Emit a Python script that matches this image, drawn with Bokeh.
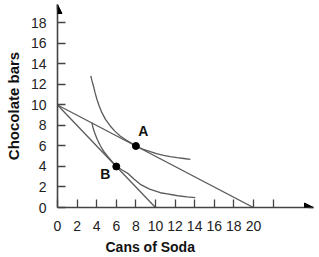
from bokeh.plotting import figure
from bokeh.models import FixedTicker, Arrow, NormalHead, Title
from bokeh.core.properties import value
from bokeh.embed import file_html
from bokeh.resources import INLINE

# ---- data ----
x_ticks = [0, 2, 4, 6, 8, 10, 12, 14, 16, 18, 20, 22]
y_ticks = [0, 2, 4, 6, 8, 10, 12, 14, 16, 18]

budget1_x = [0, 20]
budget1_y = [10, 0]
budget2_x = [0, 10]
budget2_y = [10, 0]

ic_high_x = [3.40, 3.52, 3.67, 3.82, 4.02, 4.25, 4.53, 4.9, 5.38, 5.85, 6.40, 7.0, 7.76, 8.0,
             8.7, 9.47, 10.1, 10.83, 11.5, 12.2, 12.9, 13.56]
ic_high_y = [12.83, 12.35, 11.85, 11.25, 10.56, 9.92, 9.25, 8.6, 7.95, 7.45, 6.98, 6.58, 6.17, 6.0,
             5.7, 5.44, 5.25, 5.09, 4.97, 4.86, 4.78, 4.70]

ic_low_x = [3.51, 3.65, 3.84, 4.05, 4.36, 4.72, 5.17, 5.58, 6.0, 6.6, 7.22, 7.8, 8.45, 9.4,
            10.49, 11.2, 11.85, 12.5, 13.22, 14.07]
ic_low_y = [8.27, 7.7, 7.17, 6.65, 6.05, 5.47, 4.93, 4.47, 4.05, 3.66, 3.3, 2.78, 2.26, 1.8,
            1.44, 1.32, 1.22, 1.12, 1.03, 0.96]

points_x = [8, 6]
points_y = [6, 4]
points_lbl = ["A", "B"]
lbl_x = [8.75, 4.87]
lbl_y = [7.46, 3.27]

X_MAX = 26.13
Y_MAX = 19.8

FONT = "Liberation Sans"
AXIS_COLOR = "#444444"
CURVE_COLOR = "#5a5a5a"

p = figure(width=319, height=257, output_backend="svg", toolbar_location=None,
           x_range=(0, X_MAX), y_range=(0, Y_MAX),
           min_border_left=57, min_border_right=6, min_border_top=4, min_border_bottom=50)
p.outline_line_color = None
p.xgrid.visible = False
p.ygrid.visible = False
p.background_fill_color = "white"
p.border_fill_color = "white"

for ax, ticks in ((p.xaxis[0], x_ticks), (p.yaxis[0], y_ticks)):
    ax.ticker = FixedTicker(ticks=ticks)
    ax.minor_tick_line_color = None
    ax.major_tick_in = 8
    ax.major_tick_out = 0
    ax.axis_line_color = AXIS_COLOR
    ax.axis_line_width = 1.6
    ax.major_tick_line_color = AXIS_COLOR
    ax.major_tick_line_width = 1.3
    ax.major_label_text_font = FONT
    ax.major_label_text_font_size = "14px"
    ax.major_label_text_color = "#222222"

p.xaxis[0].major_label_overrides = {22: ""}
p.xaxis[0].major_label_standoff = 13
p.yaxis[0].major_label_standoff = 11

# y axis title
p.yaxis[0].axis_label = "Chocolate bars"
p.yaxis[0].axis_label_text_font = FONT
p.yaxis[0].axis_label_text_font_style = "bold"
p.yaxis[0].axis_label_text_font_size = "15px"
p.yaxis[0].axis_label_text_color = "#111111"
p.yaxis[0].axis_label_standoff = 6

# x axis title, placed left-aligned with an offset like the reference
p.add_layout(Title(text="Cans of Soda", align="left", offset=48, standoff=6,
                   text_font=FONT, text_font_style="bold", text_font_size="14px",
                   text_color="#111111"), "below")

# budget lines
p.line(budget1_x, budget1_y, line_color=CURVE_COLOR, line_width=1.3)
p.line(budget2_x, budget2_y, line_color=CURVE_COLOR, line_width=1.3)
# indifference curves
p.line(ic_high_x, ic_high_y, line_color=CURVE_COLOR, line_width=1.3, line_join="round")
p.line(ic_low_x, ic_low_y, line_color=CURVE_COLOR, line_width=1.3, line_join="round")
# points
p.scatter(points_x, points_y, size=7, marker="circle", fill_color="black", line_color="black")
p.text(lbl_x, lbl_y, text=points_lbl, text_font=value(FONT), text_font_style="bold",
       text_font_size="14px", text_align="center", text_baseline="middle", text_color="#111111")

# axis arrows
p.add_layout(Arrow(end=NormalHead(size=9, fill_color="black", line_color="black"),
                   x_start=X_MAX - 0.5, y_start=0, x_end=X_MAX, y_end=0,
                   line_color=AXIS_COLOR, line_width=1.6))
p.add_layout(Arrow(end=NormalHead(size=9, fill_color="black", line_color="black"),
                   x_start=0, y_start=Y_MAX - 0.5, x_end=0, y_end=Y_MAX,
                   line_color=AXIS_COLOR, line_width=1.6))

open("out.html", "w").write(file_html(p, INLINE))
